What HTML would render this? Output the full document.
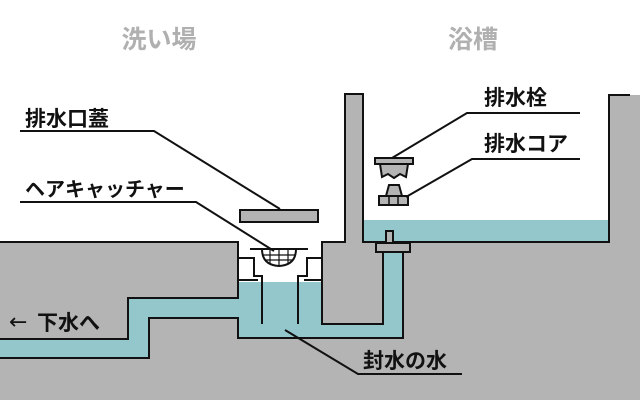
<!DOCTYPE html>
<html><head><meta charset="utf-8"><style>
html,body{margin:0;padding:0;background:#fff;}
svg{display:block}
text{font-family:"Liberation Sans","Noto Sans CJK JP",sans-serif;font-weight:bold;}
</style></head><body>
<svg width="640" height="400" viewBox="0 0 640 400" xmlns="http://www.w3.org/2000/svg">
<rect width="640" height="400" fill="#fff"/>
<rect x="0" y="242" width="640" height="158" fill="#b3b4b3"/>
<rect x="345" y="95" width="18" height="147" fill="#b3b4b3"/>
<rect x="609" y="95" width="31" height="147" fill="#b3b4b3"/>
<rect x="363" y="220" width="246" height="22" fill="#93c7cc"/>
<rect x="239" y="242" width="83" height="40" fill="#fff"/>
<g fill="#93c7cc">
<rect x="239" y="282" width="83" height="56"/>
<rect x="239" y="324" width="164" height="14"/>
<rect x="383" y="250" width="20" height="88"/>
<polygon points="240,298 128,298 128,339 0,339 0,358 149,358 149,318 240,318"/>
</g>
<g fill="none" stroke="#111" stroke-width="2">
<polyline points="0,242 238,242 238,298 128,298 128,339 0,339"/>
<polyline points="0,358 149,358 149,318 238,318 238,338 403,338 403,252"/>
<polyline points="383,252 383,324 322,324 322,242 345,242 345,94 363,94 363,242 609,242 609,95 630,95"/>
<polyline points="239,258 254,258 254,276 262,276 262,324"/>
<line x1="239" y1="280" x2="258" y2="280"/>
<polyline points="322,258 307,258 307,276 298,276 298,324"/>
<line x1="304" y1="280" x2="322" y2="280"/>
</g>
<rect x="386" y="231" width="7" height="13" fill="#b3b4b3" stroke="#111" stroke-width="2"/>
<rect x="376" y="243" width="34" height="9" fill="#b3b4b3" stroke="#111" stroke-width="2"/>
<rect x="240" y="210" width="78" height="12" fill="#b3b4b3" stroke="#111" stroke-width="2"/>
<line x1="250" y1="249" x2="308" y2="249" stroke="#111" stroke-width="2"/>
<path d="M262,249 Q262,265 279,266 Q296,265 296,249 Z" fill="#fff" stroke="#111" stroke-width="2"/>
<g stroke="#111" stroke-width="1.2">
<line x1="270" y1="249" x2="270" y2="263"/><line x1="279" y1="249" x2="279" y2="266"/><line x1="288" y1="249" x2="288" y2="263"/>
<line x1="263" y1="255" x2="295" y2="255"/><line x1="265" y1="260" x2="293" y2="260"/>
</g>
<rect x="375" y="158" width="38" height="6" fill="#b3b4b3" stroke="#111" stroke-width="2"/>
<path d="M380,164 L408,164 L406,177 L400,174 L394,178 L388,174 L382,177 Z" fill="#b3b4b3" stroke="#111" stroke-width="2"/>
<path d="M389,185 L399,185 L402,196 L386,196 Z" fill="#b3b4b3" stroke="#111" stroke-width="2"/>
<rect x="379" y="196" width="29" height="9" fill="#b3b4b3" stroke="#111" stroke-width="2"/>
<line x1="389" y1="196" x2="389" y2="205" stroke="#111" stroke-width="1.5"/>
<line x1="398" y1="196" x2="398" y2="205" stroke="#111" stroke-width="1.5"/>
<g fill="none" stroke="#111" stroke-width="2">
<polyline points="20,131 154,131 280,209"/>
<polyline points="20,202 196,202 274,251"/>
<polyline points="580,113 467,113 392,158"/>
<polyline points="580,159 472,159 406,197"/>
<polyline points="285,330 358,374 462,374"/>
</g>
<text x="159" y="48" font-size="25" fill="#b0b0b0" text-anchor="middle">洗い場</text>
<text x="473" y="48" font-size="25" fill="#b0b0b0" text-anchor="middle">浴槽</text>
<text x="25" y="126" font-size="21" fill="#111">排水口蓋</text>
<text x="25" y="196" font-size="20" fill="#111">ヘアキャッチャー</text>
<text x="484" y="105" font-size="21" fill="#111">排水栓</text>
<text x="484" y="151" font-size="21" fill="#111">排水コア</text>
<text x="9" y="329" font-size="22" fill="#111" style="font-family:'DejaVu Sans',sans-serif;font-weight:normal">←</text>
<text x="37" y="330" font-size="21" fill="#111">下水へ</text>
<text x="363" y="368" font-size="21" fill="#111">封水の水</text>
</svg>
</body></html>
